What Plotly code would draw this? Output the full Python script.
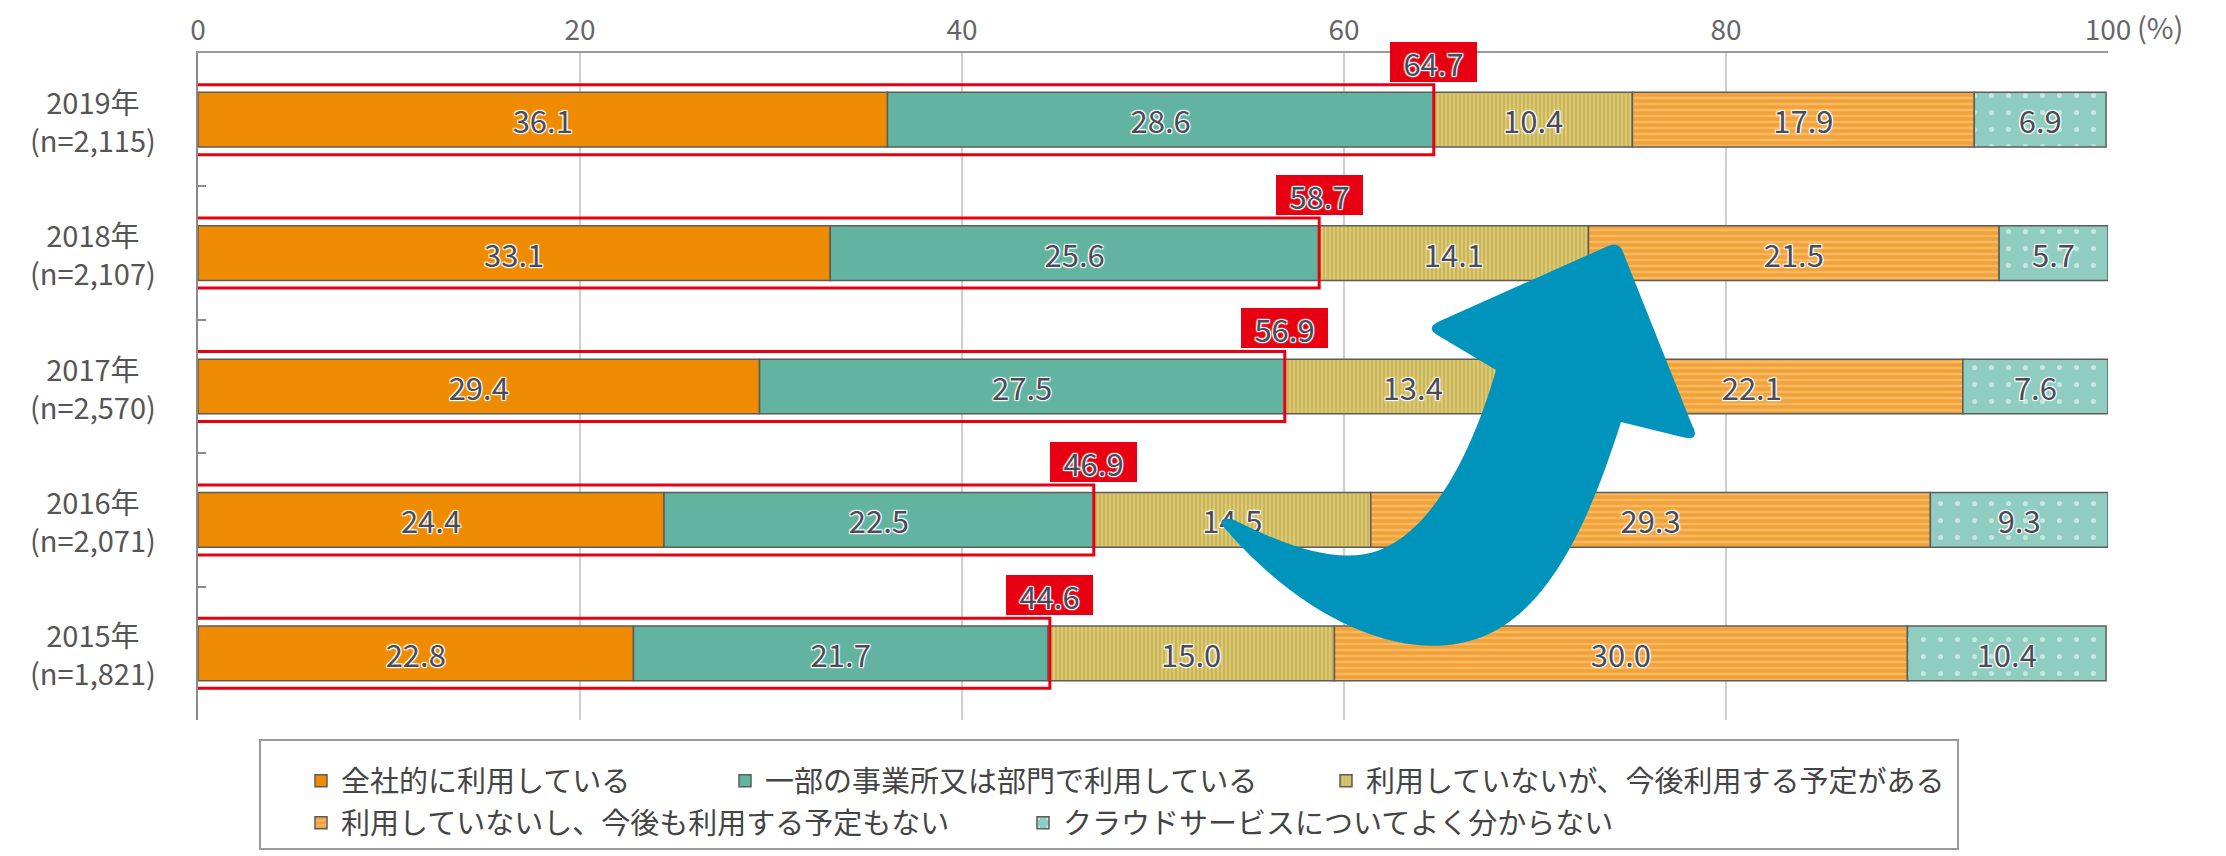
import plotly.graph_objects as go

# ---------------- data ----------------
years = ["2015年", "2016年", "2017年", "2018年", "2019年"]
sample_sizes = ["1,821", "2,071", "2,570", "2,107", "2,115"]
series_names = [
    "全社的に利用している",
    "一部の事業所又は部門で利用している",
    "利用していないが、今後利用する予定がある",
    "利用していないし、今後も利用する予定もない",
    "クラウドサービスについてよく分からない",
]
company_wide = [22.8, 24.4, 29.4, 33.1, 36.1]
partial_use = [21.7, 22.5, 27.5, 25.6, 28.6]
planned = [15.0, 14.5, 13.4, 14.1, 10.4]
no_plan = [30.0, 29.3, 22.1, 21.5, 17.9]
unknown = [10.4, 9.3, 7.6, 5.7, 6.9]
usage_total = [44.6, 46.9, 56.9, 58.7, 64.7]
x_ticks = [0, 20, 40, 60, 80, 100]
x_tick_text = ["0", "20", "40", "60", "80", "100"]

# ---------------- layout constants ----------------
W, H = 2226, 856
ML, MR, MT, MB = 198, 118, 53, 136
PW, PH = W - ML - MR, H - MT - MB
FONT = "Noto Sans CJK JP, Noto Sans, sans-serif"
HALO = "1px 1px 1px #fff, -1px -1px 1px #fff, 1px -1px 1px #fff, -1px 1px 1px #fff, 0 0 2px #fff"
LABEL_COLOR = "#4a4a58"
RED = "#E60012"

cats = [f"{y}<br>(n={n})" for y, n in zip(years, sample_sizes)]
series_values = [company_wide, partial_use, planned, no_plan, unknown]
styles = [
    dict(color="#EE8B00"),
    dict(color="#63B3A1"),
    dict(color="#D9C56C", pattern=dict(shape="|", bgcolor="#DCC970", fgcolor="#A8903A", size=4, solidity=0.35)),
    dict(color="#F4A53E", pattern=dict(shape="-", bgcolor="#F3A23A", fgcolor="#FAD08E", size=6, solidity=0.38)),
    dict(color="#8ECDBF", pattern=dict(shape=".", bgcolor="#8ECDBF", fgcolor="#FFFFFF", size=17, solidity=0.07)),
]
legend_ids = ["legend", "legend2", "legend3", "legend4", "legend5"]
legend_text_pos = [(341, 781), (765, 781), (1366, 781), (341, 823), (1063, 823)]

fig = go.Figure()
bases = [0.0] * len(cats)
for name, vals, st, lg in zip(series_names, series_values, styles, legend_ids):
    marker = dict(st)
    marker["line"] = dict(color="#5c5c5c", width=1.5)
    fig.add_trace(go.Bar(
        name=name, y=cats, x=vals, base=list(bases), orientation="h",
        width=0.41, marker=marker,
        text=[f"{v:.1f}" for v in vals], textposition="inside",
        insidetextanchor="middle", textangle=0, constraintext="none",
        insidetextfont=dict(family=FONT, size=31, color=LABEL_COLOR, shadow=HALO),
        legend=lg, hoverinfo="skip",
    ))
    bases = [b + v for b, v in zip(bases, vals)]

# red outline around the "using" portion
rect_base = -0.4
fig.add_trace(go.Bar(
    y=cats, x=[t - rect_base for t in usage_total], base=rect_base, orientation="h",
    width=0.525, marker=dict(color="rgba(0,0,0,0)", line=dict(color=RED, width=3)),
    cliponaxis=False, showlegend=False, hoverinfo="skip",
))

annotations = []
for i, t in enumerate(usage_total):
    annotations.append(dict(
        x=t, y=i + 0.2625, xref="x", yref="y", text=f"{t:.1f}", showarrow=False,
        xanchor="center", yanchor="bottom", yshift=3, bgcolor=RED,
        borderwidth=0, borderpad=0, width=87, height=40,
        font=dict(family=FONT, size=31, color=LABEL_COLOR, shadow=HALO),
    ))
for c, y, n in zip(cats, years, sample_sizes):
    annotations.append(dict(
        x=(93 - ML) / PW, xref="paper", y=c, yref="y", text=f"{y}<br>(n={n})",
        showarrow=False, xanchor="center", yanchor="middle", align="center",
        font=dict(family=FONT, size=29, color="#555555"),
    ))
annotations.append(dict(
    x=100, xref="x", y=1, yref="paper", text="(%)", showarrow=False,
    xanchor="left", yanchor="middle", xshift=27, yshift=27,
    font=dict(family=FONT, size=29, color="#666666"),
))


def px2paper(px, py):
    return (px - ML) / PW, 1 - (py - MT) / PH


def build_path(segs):
    out = []
    for cmd, pts in segs:
        coords = " ".join("%.5f,%.5f" % px2paper(x, y) for x, y in pts)
        out.append(cmd + coords)
    return " ".join(out)


arrow_segs = [
    ("M", [(1232, 519)]),
    ("C", [(1290, 548), (1340, 565), (1380, 550)]),
    ("C", [(1430, 530), (1470, 460), (1496, 370)]),
    ("L", [(1439, 336)]),
    ("Q", [(1424, 328), (1440, 321)]),
    ("L", [(1608, 246)]),
    ("Q", [(1619, 241), (1623, 252)]),
    ("L", [(1692, 425)]),
    ("Q", [(1701, 442), (1682, 437)]),
    ("L", [(1621, 422)]),
    ("C", [(1590, 520), (1550, 610), (1482, 637)]),
    ("C", [(1410, 665), (1310, 625), (1228, 532)]),
    ("Q", [(1213, 517), (1232, 519)]),
    ("Z", []),
]

lx0, ly0 = px2paper(260, 740)
lx1, ly1 = px2paper(1958, 849)
shapes = [
    dict(type="path", xref="paper", yref="paper", path=build_path(arrow_segs),
         fillcolor="#0094BD", line=dict(width=0), layer="above"),
    dict(type="rect", xref="paper", yref="paper", x0=lx0, y0=ly0, x1=lx1, y1=ly1,
         line=dict(color="#9a9a9a", width=2), fillcolor="rgba(0,0,0,0)"),
]

layout_legends = {}
for lg, (tx, ty) in zip(legend_ids, legend_text_pos):
    layout_legends[lg] = dict(
        xref="container", yref="container", x=(tx - 40) / W, y=1 - ty / H,
        xanchor="left", yanchor="middle", orientation="h",
        font=dict(family=FONT, size=29, color="#444444"),
        bgcolor="rgba(0,0,0,0)", borderwidth=0,
    )

fig.update_layout(
    width=W, height=H, barmode="overlay",
    margin=dict(l=ML, r=MR, t=MT, b=MB, autoexpand=False),
    paper_bgcolor="white", plot_bgcolor="white",
    font=dict(family=FONT, color="#555555"),
    xaxis=dict(
        range=[0, 100], side="top", tickvals=x_ticks, ticktext=x_tick_text,
        tickfont=dict(family=FONT, size=28, color="#666666"),
        showgrid=True, gridcolor="#cfcfcf", gridwidth=1.5,
        showline=True, linecolor="#9a9a9a", linewidth=2,
        zeroline=False, ticks="", ticklabelstandoff=0, fixedrange=True,
    ),
    yaxis=dict(
        type="category", categoryorder="array", categoryarray=cats,
        range=[-0.5, len(cats) - 0.5], showticklabels=False,
        ticks="inside", tickson="boundaries", ticklen=8, tickwidth=2,
        tickcolor="#8a8a8a", showline=True, linecolor="#8a8a8a", linewidth=2,
        showgrid=False, zeroline=False, fixedrange=True,
    ),
    annotations=annotations, shapes=shapes,
    **layout_legends,
)

fig.write_html(
    "out.html",
    config={"displayModeBar": False, "staticPlot": True},
    post_script="document.body.style.margin='0';document.body.style.padding='0';document.body.style.overflow='hidden';",
)
